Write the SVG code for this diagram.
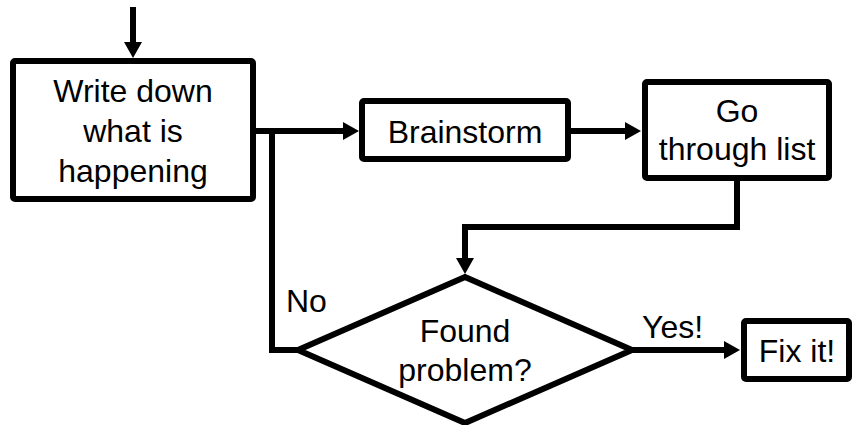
<svg xmlns="http://www.w3.org/2000/svg" width="854" height="425" viewBox="0 0 854 425">
  <style>
    .box { fill: #fff; stroke: #000; stroke-width: 6; }
    .lbl { font-family: "Liberation Sans", Arial, sans-serif; font-size: 32px; fill: #000; }
    .mid { text-anchor: middle; }
    .wire { fill: none; stroke: #000; stroke-width: 6; stroke-linejoin: miter; }
  </style>
  <defs>
    <marker id="arrow" markerUnits="userSpaceOnUse" markerWidth="18" markerHeight="20" refX="8" refY="9" orient="auto" overflow="visible">
      <path d="M0,0 L16,9 L0,18 Z" fill="#000"/>
    </marker>
  </defs>
  <rect width="854" height="425" fill="#fff"/>

  <g id="connectors">
    <path class="wire" d="M133,7 V50" marker-end="url(#arrow)"/>
    <path class="wire" d="M256,131 H351" marker-end="url(#arrow)"/>
    <path class="wire" d="M571,131 H633" marker-end="url(#arrow)"/>
    <path class="wire" d="M737,181 V227 H465 V266" marker-end="url(#arrow)"/>
    <path class="wire" d="M300,350 H272 V131"/>
    <path class="wire" d="M633,350 H732" marker-end="url(#arrow)"/>
  </g>

  <g id="write-down">
    <rect class="box" x="13" y="61" width="240" height="138" rx="2"/>
    <text class="lbl mid" x="133" y="102">Write down</text>
    <text class="lbl mid" x="133" y="142">what is</text>
    <text class="lbl mid" x="133" y="182">happening</text>
  </g>

  <g id="brainstorm">
    <rect class="box" x="362" y="101" width="206" height="58" rx="2"/>
    <text class="lbl mid" x="465" y="143">Brainstorm</text>
  </g>

  <g id="go-through-list">
    <rect class="box" x="645" y="82" width="184" height="96" rx="2"/>
    <text class="lbl mid" x="737" y="122">Go</text>
    <text class="lbl mid" x="737" y="160">through list</text>
  </g>

  <g id="found-problem">
    <polygon class="box" points="465,277 632,350 465,423 298,350"/>
    <text class="lbl mid" x="465" y="342">Found</text>
    <text class="lbl mid" x="465" y="381">problem?</text>
  </g>

  <g id="fix-it">
    <rect class="box" x="744" y="321" width="105" height="58" rx="2"/>
    <text class="lbl mid" x="797" y="362">Fix it!</text>
  </g>

  <g id="edge-labels">
    <text class="lbl" x="286" y="312">No</text>
    <text class="lbl" x="642" y="338">Yes!</text>
  </g>
</svg>
